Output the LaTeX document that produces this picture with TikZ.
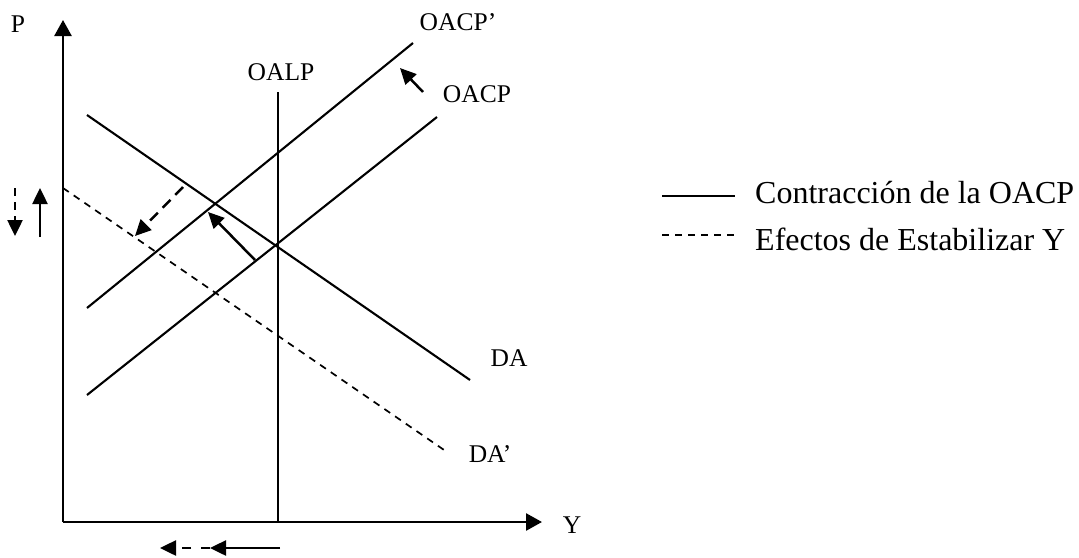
\documentclass[tikz,border=0pt]{standalone}
\usepackage{fontspec}
\setmainfont{Liberation Serif}
\usetikzlibrary{arrows.meta}
\begin{document}
\begin{tikzpicture}[x=1pt,y=-1pt,
  curve/.style={line width=2.1pt},
  dcurve/.style={line width=1.7pt,dash pattern=on 7pt off 6pt},
  axis/.style={line width=2.6pt,-{Triangle[length=16pt,width=17pt]}},
  shift arrow/.style={line width=2.5pt,-{Triangle[length=16pt,width=15pt]}},
  dshift arrow/.style={line width=2.5pt,dash pattern=on 11pt off 7pt,-{Triangle[length=16pt,width=15pt]}},
  lbl/.style={inner sep=0pt,anchor=base,font=\fontsize{25.5}{30}\selectfont},
  leg/.style={inner sep=0pt,anchor=base west,font=\fontsize{32}{38}\selectfont}]
\useasboundingbox (0,0) rectangle (1079,557);
% axes
\coordinate (O) at (63,522);
\coordinate (Ptop) at (63,20);
\coordinate (Yend) at (542,522);
\draw[axis] (O) -- (Ptop);
\draw[axis] (O) -- (Yend);
\node[lbl] (Plbl) at (18,32) {P};
\node[lbl] (Ylbl) at (572,533) {Y};
% OALP
\coordinate (oalpT) at (278,92);
\coordinate (oalpB) at (278,522);
\draw[curve] (oalpB) -- (oalpT);
\node[lbl] (oalplbl) at (281,80) {OALP};
% DA
\coordinate (daA) at (87,115);
\coordinate (daB) at (470,380);
\draw[curve] (daA) -- (daB);
\node[lbl] (dalbl) at (509,366) {DA};
% DA'
\coordinate (dapA) at (63,188);
\coordinate (dapB) at (447,452);
\draw[dcurve] (dapA) -- (dapB);
\node[lbl] (daplbl) at (490,462) {DA’};
% OACP
\coordinate (oacpA) at (87,395);
\coordinate (oacpB) at (437,117);
\draw[curve] (oacpA) -- (oacpB);
\node[lbl] (oacplbl) at (477,102) {OACP};
% OACP'
\coordinate (oacppA) at (87,308);
\coordinate (oacppB) at (413,43);
\draw[curve] (oacppA) -- (oacppB);
\node[lbl] (oacpplbl) at (458,30) {OACP’};
% shift arrows
\coordinate (s1a) at (423,92);
\coordinate (s1b) at (400,68);
\draw[shift arrow] (s1a) -- (s1b);
\coordinate (s2a) at (255,260);
\coordinate (s2b) at (208,212);
\draw[shift arrow] (s2a) -- (s2b);
\coordinate (s3a) at (183,187);
\coordinate (s3b) at (135,236);
\draw[dshift arrow] (s3a) -- (s3b);
% price arrows
\coordinate (pu1) at (40,237);
\coordinate (pu2) at (40,188);
\draw[shift arrow] (pu1) -- (pu2);
\coordinate (pd1) at (15,188);
\coordinate (pd2) at (15,236);
\draw[dshift arrow,dash pattern=on 8pt off 6pt] (pd1) -- (pd2);
% output arrows
\coordinate (q1) at (280,548);
\coordinate (q2) at (210,548);
\coordinate (q3) at (160,548);
\draw[shift arrow] (q1) -- (q2);
\draw[dshift arrow,dash pattern=on 9pt off 10pt] (q2) -- (q3);
% legend
\coordinate (l1a) at (662,196);
\coordinate (l1b) at (735,196);
\draw[curve] (l1a) -- (l1b);
\node[leg] (leg1) at (755,203) {Contracción de la OACP};
\coordinate (l2a) at (662,235);
\coordinate (l2b) at (735,235);
\draw[dcurve] (l2a) -- (l2b);
\node[leg] (leg2) at (755,250) {Efectos de Estabilizar Y};
\end{tikzpicture}
\end{document}
